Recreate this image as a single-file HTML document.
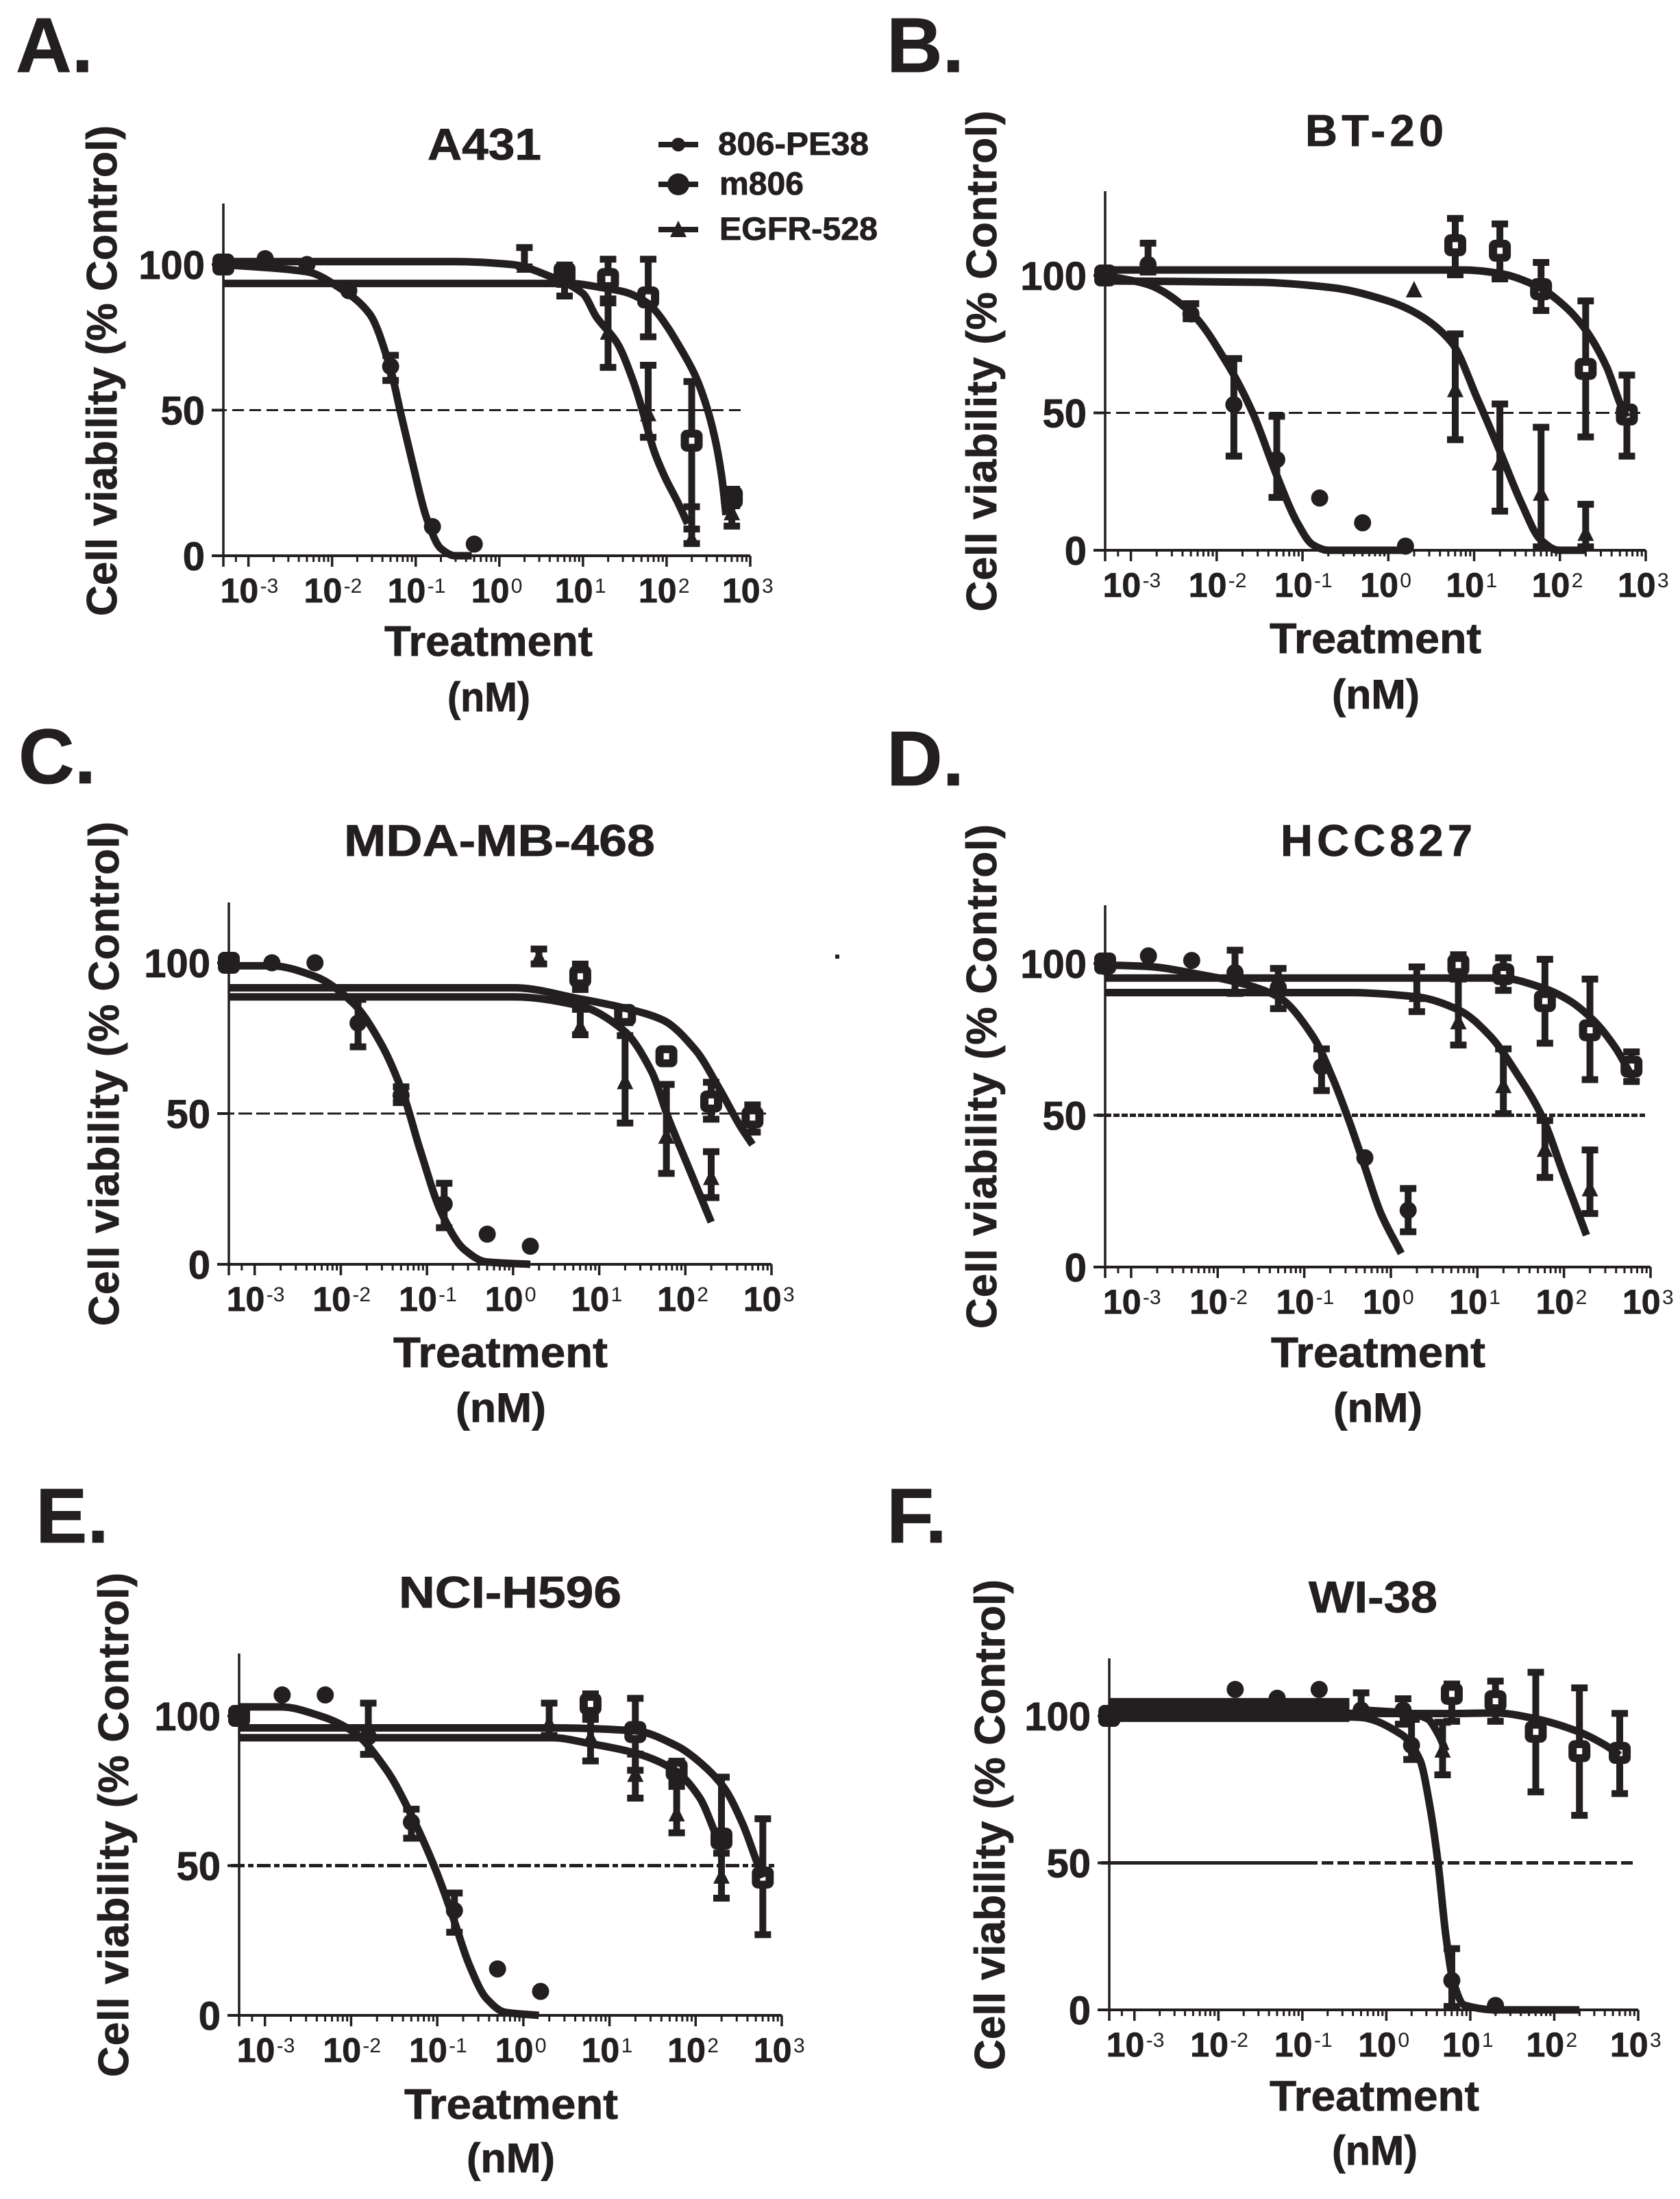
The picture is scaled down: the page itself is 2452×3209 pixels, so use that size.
<!DOCTYPE html>
<html lang="en">
<head>
<meta charset="utf-8">
<title>Cell viability dose response panels</title>
<style>
html,body{margin:0;padding:0;background:#fff;width:2452px;height:3209px;overflow:hidden}
svg{display:block}
text{font-family:"Liberation Sans",Arial,sans-serif;fill:#231f20;font-weight:bold;stroke:#231f20;stroke-width:.8px}
</style>
</head>
<body>
<svg id="figure" xmlns="http://www.w3.org/2000/svg" width="2452" height="3209" viewBox="0 0 2452 3209">
<rect width="2452" height="3209" fill="#fff"/>

<text x="23" y="105" font-size="113">A.</text>
<text x="1294" y="105" font-size="113">B.</text>
<text x="27" y="1143" font-size="113">C.</text>
<text x="1294" y="1146" font-size="113">D.</text>
<text x="52" y="2251" font-size="113">E.</text>
<text x="1294" y="2251" font-size="113">F.</text>

<text x="624" y="233" font-size="65" textLength="166" lengthAdjust="spacingAndGlyphs">A431</text>
<text x="1905" y="213" font-size="65" textLength="202" lengthAdjust="spacing">BT-20</text>
<text x="502" y="1249" font-size="65" textLength="454" lengthAdjust="spacingAndGlyphs">MDA-MB-468</text>
<text x="1869" y="1249" font-size="65" textLength="280" lengthAdjust="spacing">HCC827</text>
<text x="582" y="2346" font-size="65" textLength="325" lengthAdjust="spacingAndGlyphs">NCI-H596</text>
<text x="1910" y="2353" font-size="65" textLength="188" lengthAdjust="spacingAndGlyphs">WI-38</text>

<text transform="translate(170,541) rotate(-90)" text-anchor="middle" font-size="62" textLength="716" lengthAdjust="spacing">Cell viability (% Control)</text>
<text transform="translate(1454,527) rotate(-90)" text-anchor="middle" font-size="62" textLength="731" lengthAdjust="spacing">Cell viability (% Control)</text>
<text transform="translate(173,1567) rotate(-90)" text-anchor="middle" font-size="62" textLength="736" lengthAdjust="spacing">Cell viability (% Control)</text>
<text transform="translate(1454,1571) rotate(-90)" text-anchor="middle" font-size="62" textLength="736" lengthAdjust="spacing">Cell viability (% Control)</text>
<text transform="translate(187,2663) rotate(-90)" text-anchor="middle" font-size="62" textLength="736" lengthAdjust="spacing">Cell viability (% Control)</text>
<text transform="translate(1466,2663) rotate(-90)" text-anchor="middle" font-size="62" textLength="716" lengthAdjust="spacing">Cell viability (% Control)</text>

<text x="561" y="957" font-size="62" textLength="304" lengthAdjust="spacingAndGlyphs">Treatment</text>
<text x="653" y="1038" font-size="60" textLength="121" lengthAdjust="spacingAndGlyphs">(nM)</text>
<text x="1853" y="953" font-size="62" textLength="309" lengthAdjust="spacingAndGlyphs">Treatment</text>
<text x="1944" y="1034" font-size="60" textLength="128" lengthAdjust="spacingAndGlyphs">(nM)</text>
<text x="574" y="1995" font-size="62" textLength="313" lengthAdjust="spacingAndGlyphs">Treatment</text>
<text x="665" y="2075" font-size="60" textLength="132" lengthAdjust="spacingAndGlyphs">(nM)</text>
<text x="1855" y="1995" font-size="62" textLength="313" lengthAdjust="spacingAndGlyphs">Treatment</text>
<text x="1946" y="2075" font-size="60" textLength="130" lengthAdjust="spacingAndGlyphs">(nM)</text>
<text x="590" y="3092" font-size="62" textLength="312" lengthAdjust="spacingAndGlyphs">Treatment</text>
<text x="681" y="3170" font-size="60" textLength="129" lengthAdjust="spacingAndGlyphs">(nM)</text>
<text x="1853" y="3080" font-size="62" textLength="306" lengthAdjust="spacingAndGlyphs">Treatment</text>
<text x="1944" y="3159" font-size="60" textLength="125" lengthAdjust="spacingAndGlyphs">(nM)</text>

<g>
  <line x1="961" y1="211" x2="1019" y2="211" stroke="#231f20" stroke-width="8"/>
  <circle cx="990" cy="211" r="10" fill="#231f20"/>
  <text x="1048" y="226" font-size="47" textLength="220" lengthAdjust="spacingAndGlyphs">806-PE38</text>
  <line x1="961" y1="269" x2="1019" y2="269" stroke="#231f20" stroke-width="8"/>
  <circle cx="990" cy="269" r="16" fill="#231f20"/>
  <text x="1050" y="284" font-size="47" textLength="123" lengthAdjust="spacingAndGlyphs">m806</text>
  <line x1="961" y1="335" x2="1019" y2="335" stroke="#231f20" stroke-width="8"/>
  <polygon points="978,346 1002,346 990,322" fill="#231f20"/>
  <text x="1050" y="350" font-size="47" textLength="231" lengthAdjust="spacingAndGlyphs">EGFR-528</text>
</g>
<rect x="1219" y="1393" width="6" height="6" fill="#231f20"/>

<g id="plot-a"></g>
<g id="plot-b"></g>
<g id="plot-c"></g>
<g id="plot-d"></g>
<g id="plot-e"></g>
<g id="plot-f"></g>
</svg>

<script>
// Shared axis values
const xTickExponents = [-3,-2,-1,0,1,2,3];
const yTickValues = [0,50,100];
const axisLogMin = -3.3;
const axisLogMax = 3;
const referenceLevel = 50;

// Shared log10(nM) doses
const pe38LogDose = [-3.3,-2.8,-2.3,-1.8,-1.3,-0.8,-0.3,0.2];
const m806LogDose = [-3.3,0.78,1.3,1.78,2.3,2.78];
const egfrLogDose = [-3.3,0.3,0.78,1.3,1.78,2.3,2.78];

// Panel A: A431
const aPe38Mean = [100,102,100,91,65,10,4,null];
const aPe38Hi = [null,null,null,null,70,null,null,null];
const aPe38Lo = [null,null,null,null,59,null,null,null];
const aPe38CurveX = [-3.3,-2.3,-1.86,-1.55,-1.31,-1.18,-1.04,-0.87,-0.7,-0.53,-0.33];
const aPe38CurveY = [100,97.5,91,83,65,49,32,13,2.5,0,0];
const aM806Mean = [100,97,95,88.7,39.5,20];
const aM806Hi = [null,101,103,103,61,24];
const aM806Lo = [null,92,87,74,8,16];
const aM806CurveX = [-3.3,0.83,1.24,1.51,1.76,1.87,2.0,2.14,2.34,2.47,2.58,2.66,2.71];
const aM806CurveY = [93.5,93.5,92,90.5,87,84,79,72.5,62,52,40,27,14];
const aEgfrMean = [100,100,96,77,49,6,15];
const aEgfrHi = [null,107,100,88,66.6,18,22];
const aEgfrLo = [null,98,88,63.5,39.5,3,9];
const aEgfrCurveX = [-3.3,-0.53,0.15,0.6,1.0,1.16,1.41,1.6,1.72,1.85,1.98,2.14,2.25];
const aEgfrCurveY = [101,101,100,96,90,82,73,60,49,36,27,18,11];

// Panel B: BT-20
const bPe38Mean = [100,104,86,53,33,19,10,1.5];
const bPe38Hi = [null,113,91,71,50,null,null,null];
const bPe38Lo = [null,100,83,33,18,null,null,null];
const bPe38CurveX = [-3.3,-2.8,-2.3,-1.86,-1.58,-1.31,-1.06,-0.88,-0.7,0.16];
const bPe38CurveY = [100,96.7,86.5,67,50,28,10,2,0,0];
const bM806Mean = [100,111,109,95,66,49.4];
const bM806Hi = [null,122,120,106,92,65];
const bM806Lo = [null,99,97.5,86,40,33];
const bM806CurveX = [-3.3,0.89,1.29,1.74,2.05,2.29,2.54,2.72,2.78];
const bM806CurveY = [102,102,100.8,96,89,80.6,67,52,48.5];
const bEgfrMean = [100,95,58.7,32,21,6.4,null];
const bEgfrHi = [null,null,80,54.5,46,18,null];
const bEgfrLo = [null,null,39,13,0,0,null];
const bEgfrCurveX = [-3.3,-1.49,-0.64,-0.03,0.34,0.74,1.04,1.29,1.56,1.77,1.99,2.29];
const bEgfrCurveY = [98,97.5,95.5,91,86,75.5,55,36.8,16.5,4,0,0];

// Panel C: MDA-MB-468
const cPe38Mean = [100,100,100,80,56,20,10,6];
const cPe38Hi = [null,null,null,89,60,28,null,null];
const cPe38Lo = [null,null,null,71,52.5,11,null,null];
const cPe38CurveX = [-3.3,-2.81,-2.3,-1.85,-1.53,-1.27,-1.08,-0.83,-0.57,-0.31,0.2];
const cPe38CurveY = [99,99,95.5,86.4,73,56,38,17,5,0.8,0];
const cM806Mean = [100,95.5,82.7,69,54,48.7];
const cM806Hi = [null,100.7,85,72,61.5,54];
const cM806Lo = [null,90,79,66,47,42.7];
const cM806CurveX = [-3.3,0.01,0.78,1.29,1.74,2.12,2.38,2.64,2.78];
const cM806CurveY = [91.7,91.7,88,85,81,71,59,45.7,39.7];
const cEgfrMean = [100,102,79,60.8,42.7,29,null];
const cEgfrHi = [null,105.7,85.7,77,60.8,38.5,null];
const cEgfrLo = [null,98.5,75,45.7,29,21,null];
const cEgfrCurveX = [-3.3,0.01,0.78,1.29,1.61,1.8,2.06,2.3];
const cEgfrCurveY = [88.7,88.7,85.7,77.4,63.8,48.7,30.6,14];

// Panel D: HCC827
const dPe38Mean = [99,102.5,101,97,92,66,36,18.7];
const dPe38Hi = [null,null,null,105.5,99.5,73,null,27];
const dPe38Lo = [null,null,null,89,84,57,null,10.5];
const dPe38CurveX = [-3.3,-2.8,-2.23,-1.8,-1.3,-0.9,-0.66,-0.48,-0.3,-0.12,0.12];
const dPe38CurveY = [99.5,99,96.5,94,89,76,61.4,48,33,18,4.5];
const dM806Mean = [100,99.5,96.5,87.6,78,66];
const dM806Hi = [null,104,103,102.5,96,72];
const dM806Lo = [null,95,90,72.6,60.6,60];
const dM806CurveX = [-3.3,1.27,1.75,2.05,2.35,2.6,2.78];
const dM806CurveY = [95.2,95.2,92,88,81,72,63];
const dEgfrMean = [100,90,81,60,39,26,null];
const dEgfrHi = [null,100,96,73,49.4,39.7,null];
const dEgfrLo = [null,83,72,49.4,28.4,16.5,null];
const dEgfrCurveX = [-3.3,-0.48,0.3,0.79,1.15,1.45,1.75,1.99,2.26];
const dEgfrCurveY = [90.4,90.4,89,84.6,76,64,49.4,31,10.5];

// Panel E: NCI-H596
const ePe38Mean = [100,107,107,93,64.5,35,15.5,8];
const ePe38Hi = [null,null,null,105.4,70,42,null,null];
const ePe38Lo = [null,null,null,86,58,26.6,null,null];
const ePe38CurveX = [-3.3,-2.81,-2.36,-1.97,-1.59,-1.27,-1.01,-0.82,-0.63,-0.43,-0.21,0.18];
const ePe38CurveY = [103,103,100,94.6,82,65,48,33,17,5.7,1,0];
const eM806Mean = [100,104,94.6,82,59,46];
const eM806Hi = [null,108.5,107,86,80.7,66.8];
const eM806Lo = [null,98.5,80.7,77,53,25.8];
const eM806CurveX = [-3.3,0.34,1.3,1.78,2.07,2.33,2.55,2.71,2.78];
const eM806CurveY = [96,96,95,90,84,76,63.7,51.3,46];
const eEgfrMean = [100,97.7,93,80.7,67.5,46.7,null];
const eEgfrHi = [null,105.4,100,88.4,77.6,60.6,null];
const eEgfrLo = [null,92.3,83.8,71.4,59.8,38,null];
const eEgfrCurveX = [-3.3,0.34,0.78,1.3,1.75,2.04,2.23,2.3];
const eEgfrCurveY = [92.7,92.7,90.7,87.6,82,73,60.6,55];

// Panel F: WI-38
const fPe38LogDose = [-3.3,-1.8,-1.3,-0.8,-0.3,0.2,0.3,0.78,1.3];
const fPe38Mean = [100,109,106,109,102,102,90,10,1.5];
const fPe38Hi = [null,null,null,null,109,107,100,22,null];
const fPe38Lo = [null,null,null,null,99,96,84,0,null];
const fPe38CurveX = [-3.3,-0.32,0.18,0.4,0.52,0.62,0.71,0.8,0.93,1.3,2.3];
const fPe38CurveY = [101,99.5,93.7,85,69,49,25,9.4,1.6,0,0];
const fM806Mean = [100,107.5,105,94.6,88,87.4];
const fM806Hi = [null,112,113,116,110.7,102];
const fM806Lo = [null,97,97,73,65,72.4];
const fM806CurveX = [-3.3,0.78,1.3,1.78,2.3,2.61,2.78];
const fM806CurveY = [101,100.8,101,99,94.5,90,86.6];
const fEgfrLogDose = [-3.3,0.67];
const fEgfrMean = [100,88.6];
const fEgfrHi = [null,99];
const fEgfrLo = [null,78.8];
const fEgfrCurveX = [-0.3,0.24,0.49,0.62,0.71];
const fEgfrCurveY = [102,101,99,93.7,88];
const fPlateauX = [-3.3,-0.44];
const fPlateauY = [102,102];
const fSolidRefX = [-3.3,-0.95];

const INK = '#231f20';
const SVGNS = 'http://www.w3.org/2000/svg';

function mk(parent, tag, attrs, txt){
  const el = document.createElementNS(SVGNS, tag);
  for(const k in attrs){ el.setAttribute(k, attrs[k]); }
  if(txt !== undefined){ el.textContent = txt; }
  parent.appendChild(el);
  return el;
}

// Monotone cubic through the given pixel points
function smoothPath(pts){
  const n = pts.length;
  const sec = [];
  for(let i = 0; i < n - 1; i++){
    sec.push((pts[i+1][1] - pts[i][1]) / Math.max(0.001, pts[i+1][0] - pts[i][0]));
  }
  const tan = [sec[0]];
  for(let i = 1; i < n - 1; i++){
    tan.push(sec[i-1] * sec[i] <= 0 ? 0 : 2 * sec[i-1] * sec[i] / (sec[i-1] + sec[i]));
  }
  tan.push(sec[n-2]);
  let d = 'M' + pts[0][0].toFixed(1) + ' ' + pts[0][1].toFixed(1);
  for(let i = 0; i < n - 1; i++){
    const h = (pts[i+1][0] - pts[i][0]) / 3;
    d += 'C' + (pts[i][0] + h).toFixed(1) + ' ' + (pts[i][1] + tan[i] * h).toFixed(1) + ' ' +
         (pts[i+1][0] - h).toFixed(1) + ' ' + (pts[i+1][1] - tan[i+1] * h).toFixed(1) + ' ' +
         pts[i+1][0].toFixed(1) + ' ' + pts[i+1][1].toFixed(1);
  }
  return d;
}

function drawPoints(g, sx, sy, dose, mean, hi, lo, kind){
  dose.forEach(function(d, i){
    if(mean[i] === null){ return; }
    const x = sx(d), y = sy(mean[i]);
    if(hi[i] !== null){
      const top = sy(hi[i]) + 5, bot = sy(lo[i]) - 5;
      const stem = mk(g, 'path', {d:'M'+x+' '+top+'V'+bot+'M'+(x-12)+' '+top+'H'+(x+12)+'M'+(x-12)+' '+bot+'H'+(x+12), stroke:INK, 'stroke-width':10, fill:'none'});
      
      
    }
    if(kind === 'pe38'){
      const c = mk(g, 'circle', {cx:x, cy:y, r:12.5, fill:INK});
      
      
    } else if(kind === 'm806'){
      const o = mk(g, 'rect', {x:x-16, y:y-16, width:32, height:32, rx:9, fill:INK});
      
      
      const h = mk(g, 'rect', {x:x-4, y:y-4.5, width:8, height:9, fill:'#fff'});
      
      
    } else {
      const t = mk(g, 'polygon', {points:(x-12)+','+(y+12)+' '+(x+12)+','+(y+12)+' '+x+','+(y-12), fill:INK});
      
      
    }
  });
}

function drawCurve(g, sx, sy, xs, ys, name, width){
  const pts = xs.map(function(v, i){ return [sx(v), sy(ys[i])]; });
  const p = mk(g, 'path', {d:smoothPath(pts), fill:'none', stroke:INK, 'stroke-width':width, 'stroke-linejoin':'round'});
  
  
}

function drawPanel(geo, ser){
  const g = document.getElementById('plot-' + geo.id);
  const dec = (geo.x1 - geo.x0) / (axisLogMax - axisLogMin);
  const sx = function(l){ return geo.x0 + (l - axisLogMin) * dec; };
  const sy = function(v){ return geo.y0 - v / 100 * (geo.y0 - geo.y100); };

  const ya = mk(g, 'line', {x1:geo.x0, y1:geo.top, x2:geo.x0, y2:geo.y0 + 16, stroke:INK, 'stroke-width':3.5});
  
  
  const xa = mk(g, 'line', {x1:geo.x0 - 17, y1:geo.y0, x2:geo.x1, y2:geo.y0, stroke:INK, 'stroke-width':4});
  
  

  yTickValues.forEach(function(v){
    const t = mk(g, 'line', {x1:geo.x0 - 17, y1:sy(v), x2:geo.x0, y2:sy(v), stroke:INK, 'stroke-width':4});
    
    
    const l = mk(g, 'text', {x:geo.x0 - 27, y:sy(v) + 21, 'text-anchor':'end', 'font-size':58}, String(v));
    
    
  });

  xTickExponents.forEach(function(e){
    const x = sx(e);
    const t = mk(g, 'line', {x1:x, y1:geo.y0, x2:x, y2:geo.y0 + 16, stroke:INK, 'stroke-width':3.5});
    
    
    const base = mk(g, 'text', {x:x - 41, y:geo.y0 + 68, 'font-size':50}, '10');
    
    
    const sup = mk(g, 'text', {x:x + 17, y:geo.y0 + 54, 'font-size':30, style:'font-weight:normal;stroke-width:0'}, String(e));
    
    
    for(let k = 2; k <= 9; k++){
      const lx = e + Math.log10(k);
      if(lx < axisLogMax){
        const m = mk(g, 'line', {x1:sx(lx), y1:geo.y0, x2:sx(lx), y2:geo.y0 + 9, stroke:INK, 'stroke-width':3});
        
        
      }
    }
  });
  [-3.15].forEach(function(l){
    const m = mk(g, 'line', {x1:sx(l), y1:geo.y0, x2:sx(l), y2:geo.y0 + 9, stroke:INK, 'stroke-width':3});
    
    
  });

  const r = mk(g, 'line', {x1:geo.x0 - 12, y1:sy(referenceLevel), x2:geo.x1 - 8, y2:sy(referenceLevel), stroke:INK, 'stroke-width':geo.refWidth, 'stroke-dasharray':geo.refDash});
  
  

  drawPoints(g, sx, sy, m806LogDose, ser.m806Mean, ser.m806Hi, ser.m806Lo, 'm806');
  drawPoints(g, sx, sy, ser.egfrDose || egfrLogDose, ser.egfrMean, ser.egfrHi, ser.egfrLo, 'egfr');
  drawPoints(g, sx, sy, ser.pe38Dose || pe38LogDose, ser.pe38Mean, ser.pe38Hi, ser.pe38Lo, 'pe38');
  drawCurve(g, sx, sy, ser.m806X, ser.m806Y, 'curve-m806', 11);
  drawCurve(g, sx, sy, ser.egfrX, ser.egfrY, 'curve-egfr-528', 11);
  drawCurve(g, sx, sy, ser.pe38X, ser.pe38Y, 'curve-806-pe38', 11);
  if(ser.plateauX){
    drawCurve(g, sx, sy, ser.plateauX, ser.plateauY, 'overlapping-low-dose-points', 35);
    const c = mk(g, 'line', {x1:sx(ser.solidRefX[0]), y1:sy(referenceLevel), x2:sx(ser.solidRefX[1]), y2:sy(referenceLevel), stroke:INK, 'stroke-width':geo.refWidth});
    
    
  }
}

const layouts = [
  {id:'a', x0:326, x1:1095, y0:811, y100:386, top:297, refWidth:3, refDash:'17 8'},
  {id:'b', x0:1613, x1:2402, y0:803, y100:402, top:279, refWidth:3, refDash:'20 8'},
  {id:'c', x0:334, x1:1126, y0:1845, y100:1405, top:1317, refWidth:3, refDash:'20 6'},
  {id:'d', x0:1613, x1:2409, y0:1849, y100:1406, top:1321, refWidth:5, refDash:'9 3'},
  {id:'e', x0:349, x1:1141, y0:2941, y100:2504, top:2413, refWidth:5, refDash:'20 5 8 5'},
  {id:'f', x0:1619, x1:2391, y0:2933, y100:2504, top:2420, refWidth:5, refDash:'17 6'}
];

const seriesByPanel = {
  a:{pe38Mean:aPe38Mean,pe38Hi:aPe38Hi,pe38Lo:aPe38Lo,pe38X:aPe38CurveX,pe38Y:aPe38CurveY,m806Mean:aM806Mean,m806Hi:aM806Hi,m806Lo:aM806Lo,m806X:aM806CurveX,m806Y:aM806CurveY,egfrMean:aEgfrMean,egfrHi:aEgfrHi,egfrLo:aEgfrLo,egfrX:aEgfrCurveX,egfrY:aEgfrCurveY},
  b:{pe38Mean:bPe38Mean,pe38Hi:bPe38Hi,pe38Lo:bPe38Lo,pe38X:bPe38CurveX,pe38Y:bPe38CurveY,m806Mean:bM806Mean,m806Hi:bM806Hi,m806Lo:bM806Lo,m806X:bM806CurveX,m806Y:bM806CurveY,egfrMean:bEgfrMean,egfrHi:bEgfrHi,egfrLo:bEgfrLo,egfrX:bEgfrCurveX,egfrY:bEgfrCurveY},
  c:{pe38Mean:cPe38Mean,pe38Hi:cPe38Hi,pe38Lo:cPe38Lo,pe38X:cPe38CurveX,pe38Y:cPe38CurveY,m806Mean:cM806Mean,m806Hi:cM806Hi,m806Lo:cM806Lo,m806X:cM806CurveX,m806Y:cM806CurveY,egfrMean:cEgfrMean,egfrHi:cEgfrHi,egfrLo:cEgfrLo,egfrX:cEgfrCurveX,egfrY:cEgfrCurveY},
  d:{pe38Mean:dPe38Mean,pe38Hi:dPe38Hi,pe38Lo:dPe38Lo,pe38X:dPe38CurveX,pe38Y:dPe38CurveY,m806Mean:dM806Mean,m806Hi:dM806Hi,m806Lo:dM806Lo,m806X:dM806CurveX,m806Y:dM806CurveY,egfrMean:dEgfrMean,egfrHi:dEgfrHi,egfrLo:dEgfrLo,egfrX:dEgfrCurveX,egfrY:dEgfrCurveY},
  e:{pe38Mean:ePe38Mean,pe38Hi:ePe38Hi,pe38Lo:ePe38Lo,pe38X:ePe38CurveX,pe38Y:ePe38CurveY,m806Mean:eM806Mean,m806Hi:eM806Hi,m806Lo:eM806Lo,m806X:eM806CurveX,m806Y:eM806CurveY,egfrMean:eEgfrMean,egfrHi:eEgfrHi,egfrLo:eEgfrLo,egfrX:eEgfrCurveX,egfrY:eEgfrCurveY},
  f:{pe38Dose:fPe38LogDose,pe38Mean:fPe38Mean,pe38Hi:fPe38Hi,pe38Lo:fPe38Lo,pe38X:fPe38CurveX,pe38Y:fPe38CurveY,m806Mean:fM806Mean,m806Hi:fM806Hi,m806Lo:fM806Lo,m806X:fM806CurveX,m806Y:fM806CurveY,egfrDose:fEgfrLogDose,egfrMean:fEgfrMean,egfrHi:fEgfrHi,egfrLo:fEgfrLo,egfrX:fEgfrCurveX,egfrY:fEgfrCurveY,plateauX:fPlateauX,plateauY:fPlateauY,solidRefX:fSolidRefX}
};

layouts.forEach(function(geo){ drawPanel(geo, seriesByPanel[geo.id]); });
</script>
</body>
</html>
